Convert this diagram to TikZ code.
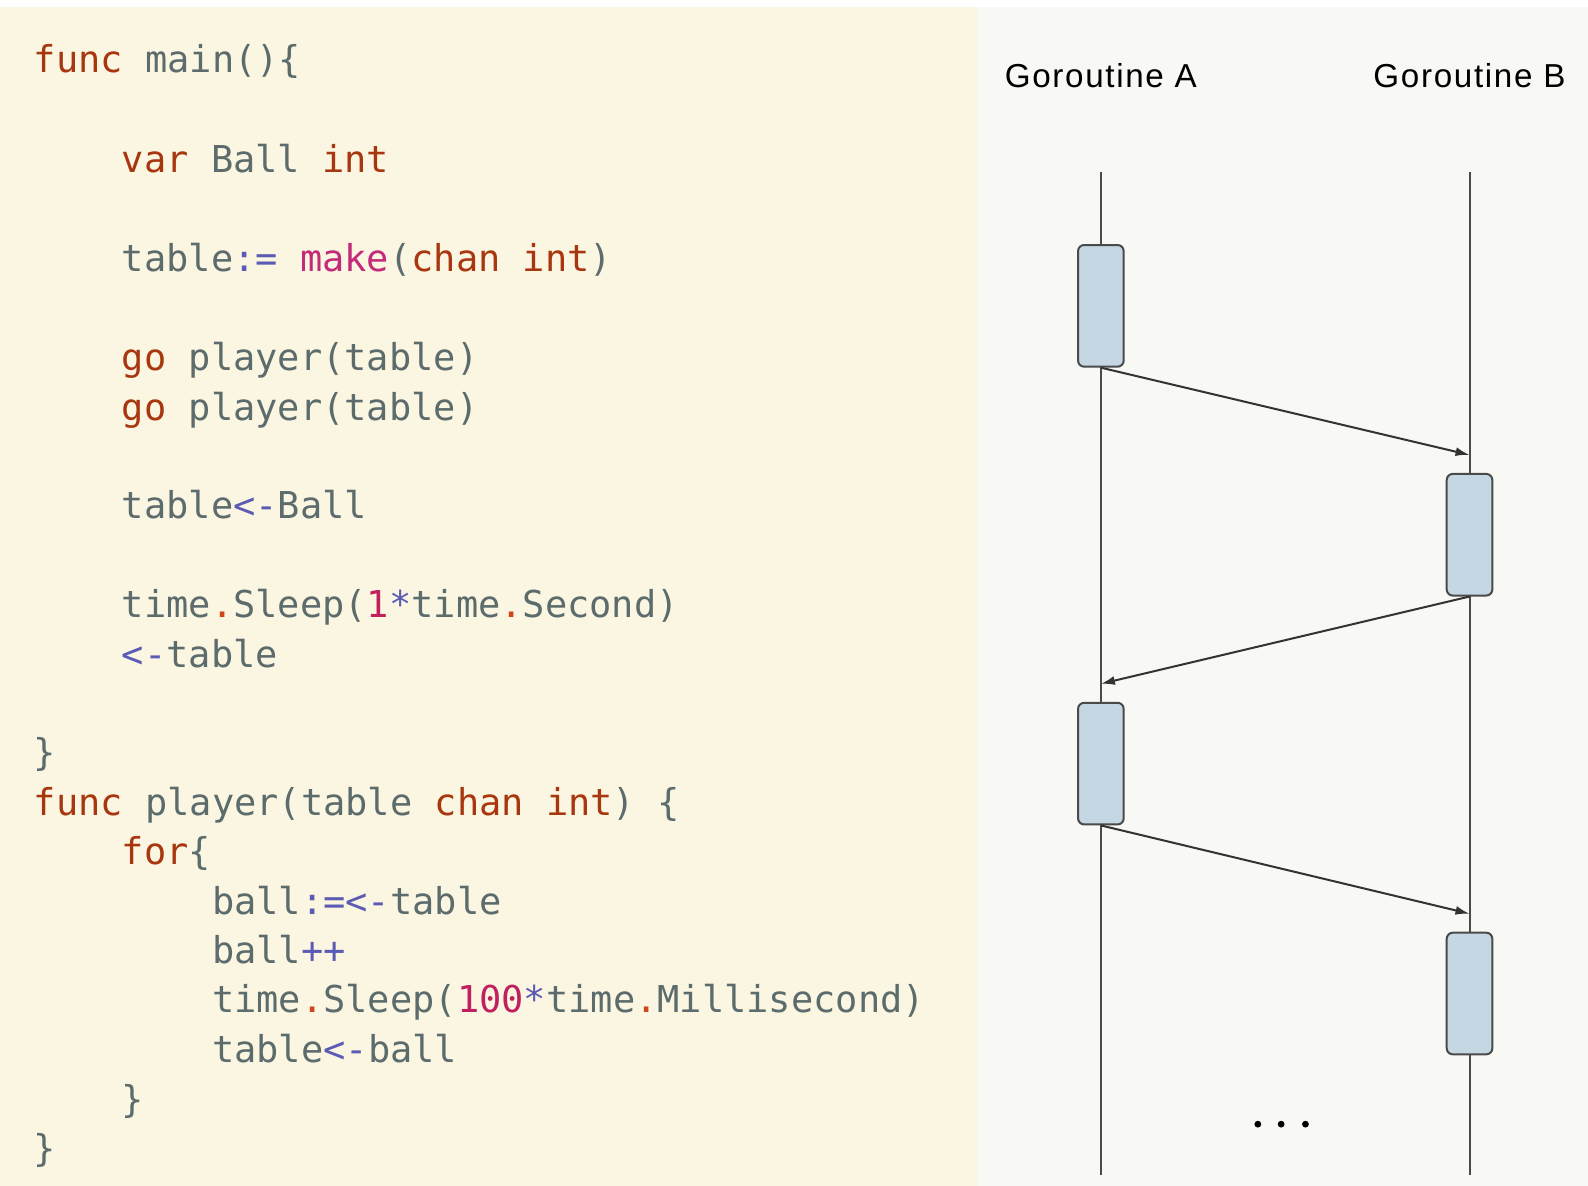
\documentclass[tikz,border=0pt]{standalone}
\usepackage{fontspec}
\setmainfont{Liberation Sans}
\setmonofont{DejaVu Sans Mono}
\usetikzlibrary{arrows.meta}

\definecolor{codebg}{HTML}{FBF6E2}
\definecolor{diagbg}{HTML}{F8F9F4}
\definecolor{gokwcol}{HTML}{A8360F}
\definecolor{goidcol}{HTML}{5C6B6B}
\definecolor{goopcol}{HTML}{5B5BB5}
\definecolor{gofncol}{HTML}{C42A7A}
\definecolor{gonumcol}{HTML}{C0205E}
\definecolor{godotcol}{HTML}{D0451B}
\definecolor{actfill}{HTML}{C4D7E3}
\definecolor{lifecol}{HTML}{4A4A4A}

\newcommand{\gokw}[1]{\textcolor{gokwcol}{#1}}
\newcommand{\goop}[1]{\textcolor{goopcol}{#1}}
\newcommand{\gofn}[1]{\textcolor{gofncol}{#1}}
\newcommand{\gonum}[1]{\textcolor{gonumcol}{#1}}
\newcommand{\godot}{\textcolor{godotcol}{.}}

\tikzset{
  codeline/.style={anchor=base west, inner sep=0pt, text=goidcol,
    font=\ttfamily\fontsize{18.5}{22}\selectfont},
  gorlabel/.style={inner sep=0pt, text=black,
    font=\fontsize{16.6}{20}\selectfont\addfontfeatures{LetterSpace=5}},
  lifeline/.style={draw=lifecol, line width=1pt},
  act/.style={draw=lifecol, fill=actfill, line width=1pt, rounded corners=3pt,
    minimum width=22.8pt, minimum height=60.8pt, inner sep=0pt},
  msg/.style={draw=black!80, line width=1pt, -{Latex[length=7pt,width=4.5pt]}}
}

\begin{document}
\begin{tikzpicture}[x=0.50638pt,y=-0.50638pt]
  \useasboundingbox (0,0) rectangle (1568,1171);
  \fill[white] (0,0) rectangle (1568,1171);
  \fill[codebg] (0,7) rectangle (965,1171);
  \fill[diagbg] (965,7) rectangle (1568,1171);

  % code
  \node[codeline] (mainhead) at (33,72) {\gokw{func} main()\{};
  \node[codeline] (varball) at (120,170) {\gokw{var} Ball \gokw{int}};
  \node[codeline] (maketable) at (120,268) {table\goop{:=} \gofn{make}(\gokw{chan} \gokw{int})};
  \node[codeline] (goone) at (120,366) {\gokw{go} player(table)};
  \node[codeline] (gotwo) at (120,415) {\gokw{go} player(table)};
  \node[codeline] (sendball) at (120,512) {table\goop{<-}Ball};
  \node[codeline] (sleepmain) at (120,610) {time\godot Sleep(\gonum{1}\goop{*}time\godot Second)};
  \node[codeline] (recvmain) at (120,659) {\goop{<-}table};
  \node[codeline] (mainend) at (33,756) {\}};
  \node[codeline] (playerhead) at (33,805) {\gokw{func} player(table \gokw{chan} \gokw{int}) \{};
  \node[codeline] (forhead) at (120,854) {\gokw{for}\{};
  \node[codeline] (recvball) at (209,903) {ball\goop{:=<-}table};
  \node[codeline] (incball) at (209,951) {ball\goop{++}};
  \node[codeline] (sleepplayer) at (209,1000) {time\godot Sleep(\gonum{100}\goop{*}time\godot Millisecond)};
  \node[codeline] (sendback) at (209,1049) {table\goop{<-}ball};
  \node[codeline] (forend) at (120,1098) {\}};
  \node[codeline] (playerend) at (33,1147) {\}};

  % goroutines
  \node[gorlabel] (gora) at (1087,75) {Goroutine A};
  \node[gorlabel] (gorb) at (1451,75) {Goroutine B};
  \coordinate (atop) at (1087,170);
  \coordinate (abot) at (1087,1160);
  \coordinate (btop) at (1451,170);
  \coordinate (bbot) at (1451,1160);
  \draw[lifeline] (atop) -- (abot);
  \draw[lifeline] (btop) -- (bbot);

  \node[act] (a1) at (1087,302) {};
  \node[act] (b1) at (1451,528) {};
  \node[act] (a2) at (1087,754) {};
  \node[act] (b2) at (1451,981) {};

  \draw[msg] (a1.south) -- ([yshift=9pt]b1.north);
  \draw[msg] (b1.south) -- ([yshift=9pt]a2.north);
  \draw[msg] (a2.south) -- ([yshift=9pt]b2.north);

  \foreach \dx in {1242,1265,1289}
    \fill (\dx,1110) circle (1.7pt);
\end{tikzpicture}
\end{document}
